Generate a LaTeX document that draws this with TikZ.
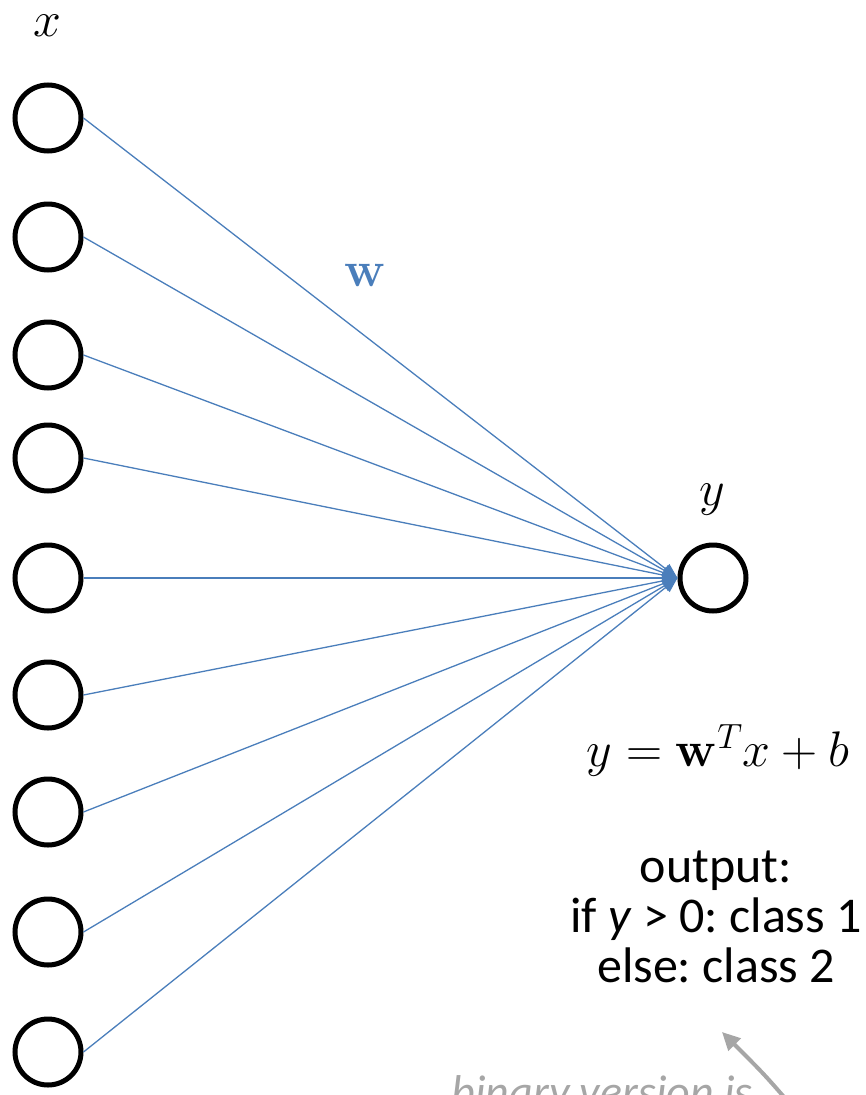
\RequirePackage{fix-cm}
\documentclass[tikz,border=0pt]{standalone}
\usepackage[no-math]{fontspec}
\setmainfont{Carlito}
\usetikzlibrary{arrows.meta}
\definecolor{wblue}{HTML}{4A7EBB}
\definecolor{notegray}{HTML}{A6A6A6}
\frenchspacing

\begin{document}
\begin{tikzpicture}[x=1pt,y=-1pt,
  unit/.style={circle,draw=black,line width=5pt,minimum size=66pt,inner sep=0pt},
  weight/.style={wblue,line width=1.3pt,-{Triangle[length=15pt,width=12pt]}},
  mathlbl/.style={font=\fontsize{50}{52}\selectfont},
  txt/.style={font=\fontsize{50}{50}\selectfont},
  notearrow/.style={notegray,line width=4pt,-{Triangle[length=18pt,width=17pt]}}]
\useasboundingbox (0,0) rectangle (865,1095);
% inputs
\node[unit] (in1) at (48,118) {};
\node[unit] (in2) at (48,237) {};
\node[unit] (in3) at (48,355) {};
\node[unit] (in4) at (48,458) {};
\node[unit] (in5) at (48,578) {};
\node[unit] (in6) at (48,695) {};
\node[unit] (in7) at (48,812) {};
\node[unit] (in8) at (48,932) {};
\node[unit] (in9) at (48,1052) {};
% output
\node[unit] (out) at (713,578) {};
\node[mathlbl] (xlbl) at (47,26) {$x$};
\node[mathlbl] (ylbl) at (712,500) {$y$};
\node[mathlbl,wblue] (wlbl) at (365,275) {$\mathbf{w}$};
\node[mathlbl] (eq) at (718,750) {$y=\mathbf{w}^Tx+b$};
\node[txt,align=center] (rule) at (716,917) {output:\\if \textit{y} > 0: class 1\\else: class 2};
\node[txt,notegray,anchor=base west,font=\fontsize{46}{48}\selectfont\itshape] (note) at (448,1107) {binary version is};
\coordinate (notefrom) at (797,1112);
\coordinate (noteto) at (722,1032);
% weights
\draw[weight] (in1.east) -- (out.west);
\draw[weight] (in2.east) -- (out.west);
\draw[weight] (in3.east) -- (out.west);
\draw[weight] (in4.east) -- (out.west);
\draw[weight] (in5.east) -- (out.west);
\draw[weight] (in6.east) -- (out.west);
\draw[weight] (in7.east) -- (out.west);
\draw[weight] (in8.east) -- (out.west);
\draw[weight] (in9.east) -- (out.west);
\draw[notearrow] (notefrom) .. controls (765,1075) .. (noteto);
\end{tikzpicture}
\end{document}
